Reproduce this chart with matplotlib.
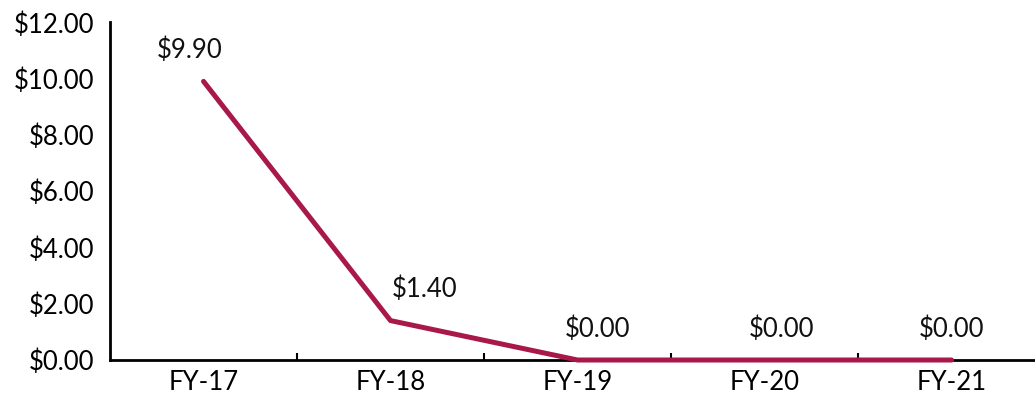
import matplotlib
matplotlib.use("Agg")
import matplotlib.pyplot as plt
from matplotlib.ticker import FixedLocator, NullFormatter

# Chart data
years = ["FY-17", "FY-18", "FY-19", "FY-20", "FY-21"]
values = [9.90, 1.40, 0.00, 0.00, 0.00]
y_ticks = [0, 2, 4, 6, 8, 10, 12]

LINE_COLOR = "#A8184B"
plt.rcParams["font.family"] = ["Lato", "DejaVu Sans"]

fig = plt.figure(figsize=(10.35, 3.95), dpi=100)
ax = fig.add_axes([0.1063, 0.0886, 0.8937, 0.855])

x = list(range(len(years)))
ax.plot(x, values, color=LINE_COLOR, linewidth=3.6, solid_capstyle="round",
        solid_joinstyle="round", zorder=3, clip_on=False)

# data labels (pixel offsets tuned to look like the original placement)
label_offsets = [(-14, 31), (34, 31), (20, 31), (17, 31), (0, 31)]
for xi, v, off in zip(x, values, label_offsets):
    ax.annotate(f"${v:.2f}", (xi, v), xytext=off, textcoords="offset pixels",
                ha="center", va="center", fontsize=18.5, color="#111111")

ax.set_xlim(-0.5, 4.446)
ax.set_ylim(0, 12)

ax.set_xticks(x)
ax.set_xticklabels(years, fontsize=18.5)
ax.xaxis.set_minor_locator(FixedLocator([0.5, 1.5, 2.5, 3.5]))
ax.xaxis.set_minor_formatter(NullFormatter())
ax.tick_params(axis="x", which="major", length=0, pad=7)
ax.tick_params(axis="x", which="minor", direction="in", length=5, width=1.5)

ax.set_yticks(y_ticks)
ax.set_yticklabels([f"${t:.2f}" for t in y_ticks], fontsize=18.5)
ax.tick_params(axis="y", length=0, pad=11)

for side in ["top", "right"]:
    ax.spines[side].set_visible(False)
for side in ["left", "bottom"]:
    ax.spines[side].set_linewidth(2)
    ax.spines[side].set_color("black")

fig.savefig("out.png", dpi=100)
